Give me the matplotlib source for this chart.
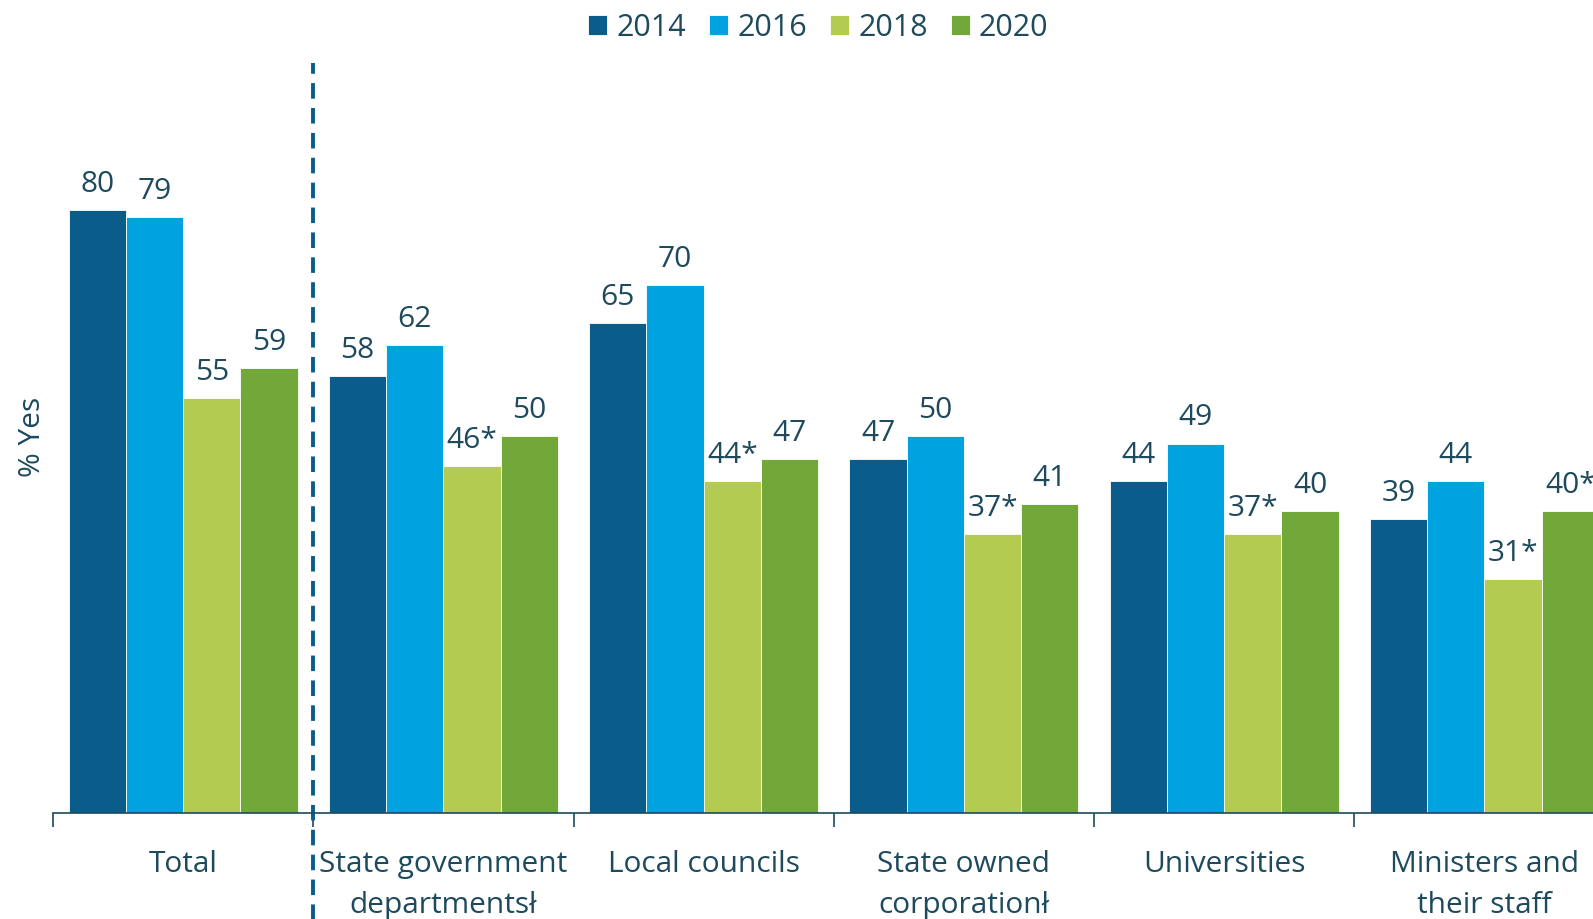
import matplotlib.pyplot as plt
import numpy as np

plt.rcParams['font.family'] = ['Open Sans', 'DejaVu Sans']

categories = ["Total", "State government\ndepartmentsł", "Local councils",
              "State owned\ncorporationł", "Universities", "Ministers and\ntheir staff"]
years = ["2014", "2016", "2018", "2020"]
v2014 = [80, 58, 65, 47, 44, 39]
v2016 = [79, 62, 70, 50, 49, 44]
v2018 = [55, 46, 44, 37, 37, 31]
v2020 = [59, 50, 47, 41, 40, 40]
lab2014 = ["80", "58", "65", "47", "44", "39"]
lab2016 = ["79", "62", "70", "50", "49", "44"]
lab2018 = ["55", "46*", "44*", "37*", "37*", "31*"]
lab2020 = ["59", "50", "47", "41", "40", "40*"]
colors = ["#0A5C8A", "#00A3E0", "#B2CB50", "#72A83A"]
txt = "#1D4A5C"

series = [v2014, v2016, v2018, v2020]
labels = [lab2014, lab2016, lab2018, lab2020]

fig = plt.figure(figsize=(15.93, 9.2), dpi=100)
ax = fig.add_axes([0.0333, 0.115, 0.9667, 0.82])

x = np.arange(len(categories))
w = 0.22
for i, (vals, labs) in enumerate(zip(series, labels)):
    pos = x + (i - 1.5) * w
    ax.bar(pos, vals, width=w, color=colors[i], edgecolor="white", linewidth=0.6, label=years[i])
    for p, v, s in zip(pos, vals, labs):
        ax.text(p, v + 1.6, s, ha="center", va="bottom", fontsize=21.5, color=txt)

ax.set_yticks([])
for s in ["top", "right", "left"]:
    ax.spines[s].set_visible(False)
ax.spines["bottom"].set_color(txt)
ax.spines["bottom"].set_linewidth(1.2)

ax.set_xticks(x)
ax.set_xticklabels(categories, fontsize=21.5, color=txt, linespacing=1.55)
ax.tick_params(axis="x", which="major", length=0, pad=26)
ax.set_xticks(np.arange(-0.5, 5, 1.0), minor=True)
ax.tick_params(axis="x", which="minor", length=10, color=txt, width=1.2)
ax.set_xlim(-0.5, 5.417)
ax.set_ylim(0, 100)

ax.set_ylabel("% Yes", fontsize=21.5, color=txt, labelpad=4)

ax.axvline(0.5, ymin=-0.2, ymax=0.995, clip_on=False, color="#0A5C8A",
           linestyle=(0, (4.0, 2.4)), linewidth=2.8)

leg = ax.legend(loc="upper center", bbox_to_anchor=(0.497, 1.098), ncol=4,
                frameon=False, fontsize=22, handlelength=0.62, handleheight=0.62,
                handletextpad=0.3, columnspacing=0.75)
for t in leg.get_texts():
    t.set_color(txt)

fig.savefig("out.png", dpi=100)
